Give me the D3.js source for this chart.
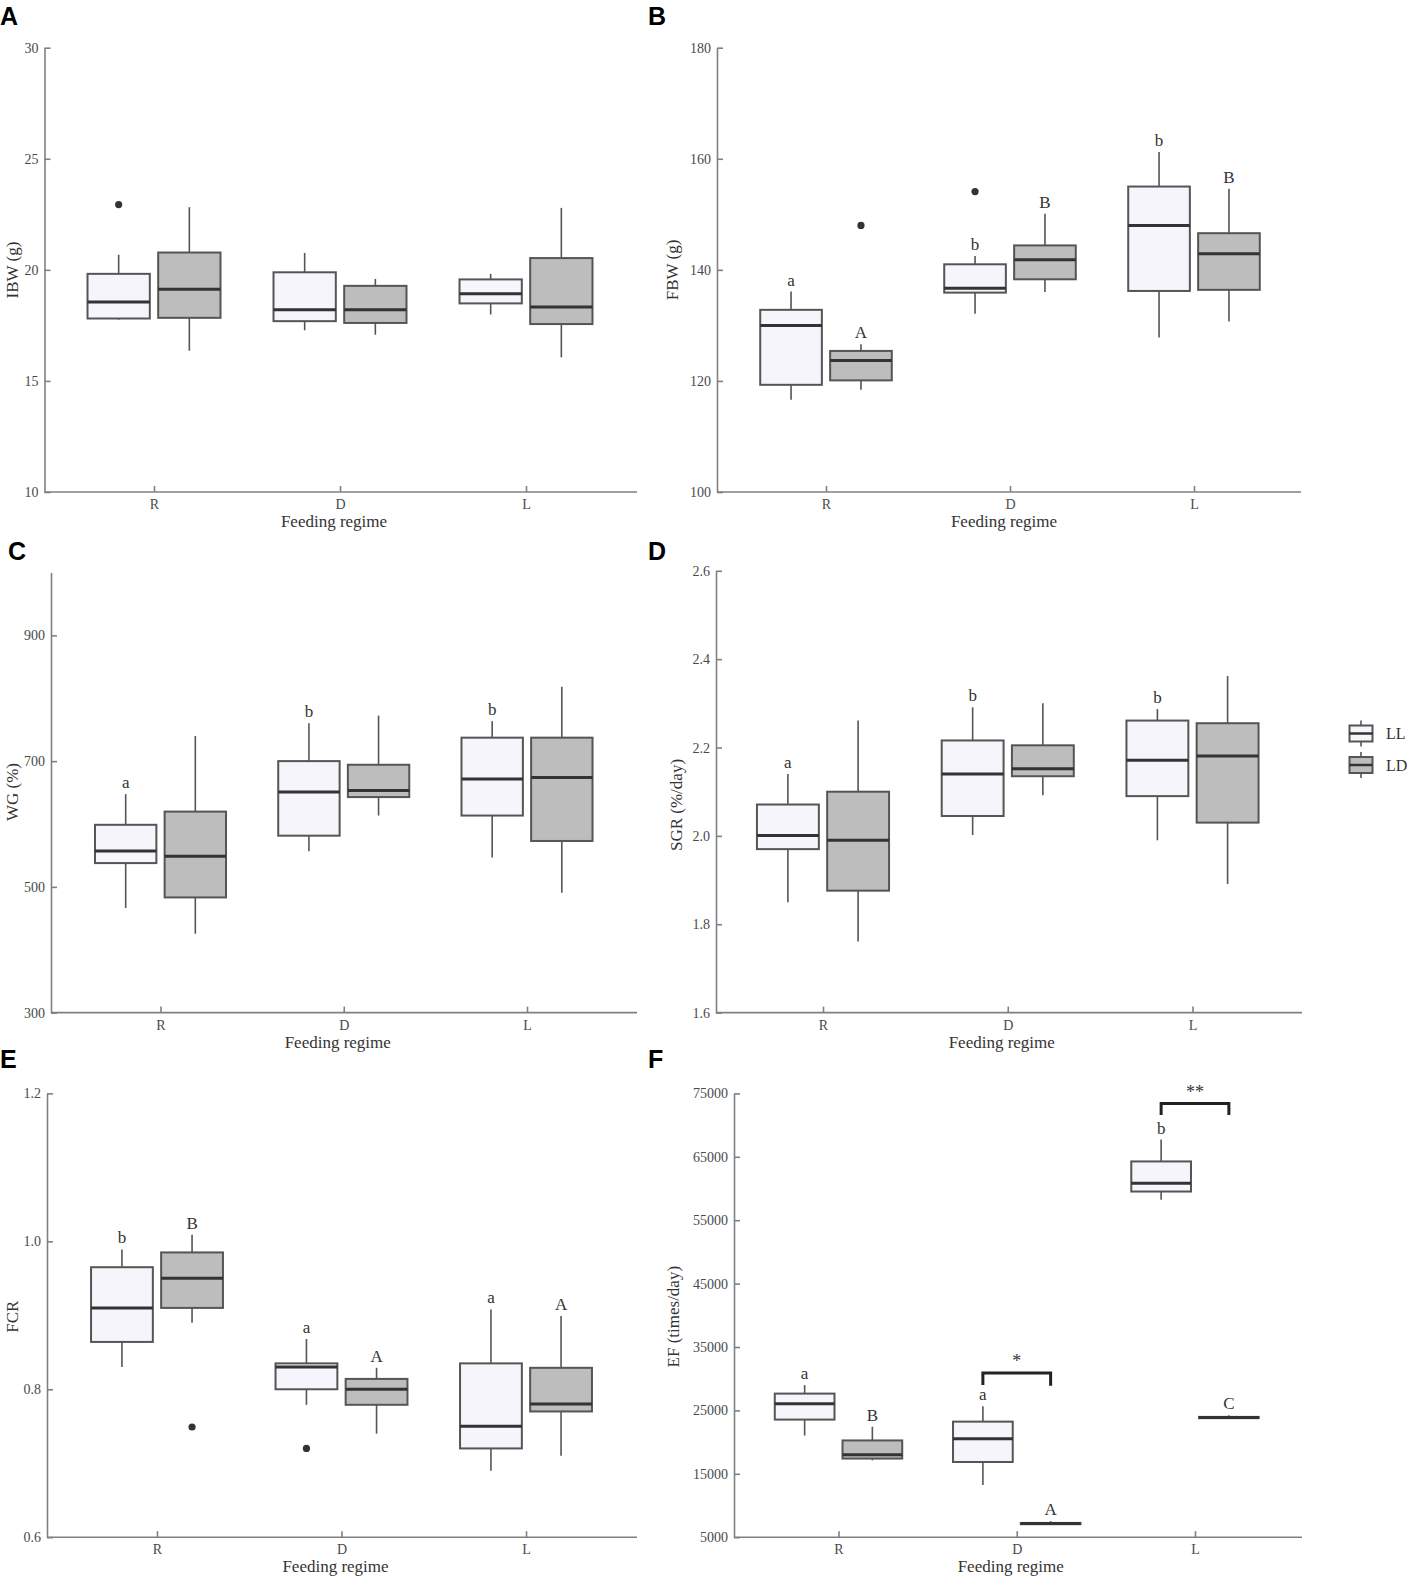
<!DOCTYPE html>
<html>
<head>
<meta charset="utf-8">
<script src="https://d3js.org/d3.v7.min.js"></script>
<style>
  body { margin: 0; background: #fff; }
  svg { display: block; }
</style>
</head>
<body>
<script>
// categories and series
var groups = ["R", "D", "L"];
var seriesNames = ["LL", "LD"];

// each row: [lower whisker, Q1, median, Q3, upper whisker] for R, D, L
// A - IBW (g)
var ibwLL = [[17.76, 17.81, 18.55, 19.82, 20.68], [17.28, 17.69, 18.20, 19.89, 20.76], [17.99, 18.49, 18.92, 19.57, 19.82]];
var ibwLD = [[16.36, 17.84, 19.13, 20.78, 22.82], [17.08, 17.61, 18.20, 19.28, 19.59], [16.06, 17.56, 18.33, 20.53, 22.79]];
var ibwOut = [["R", "LL", 22.94]];
var ibwTicks = [10, 15, 20, 25, 30];

// B - FBW (g)
var fbwLL = [[116.6, 119.3, 130.0, 132.8, 136.1], [132.1, 135.9, 136.7, 141.0, 142.5], [127.8, 136.2, 148.0, 155.0, 161.2]];
var fbwLD = [[118.4, 120.1, 123.7, 125.4, 126.6], [136.0, 138.3, 141.8, 144.4, 150.1], [130.7, 136.4, 142.9, 146.6, 154.6]];
var fbwOut = [["R", "LD", 148.0], ["D", "LL", 154.1]];
var fbwLetters = {LL: ["a", "b", "b"], LD: ["A", "B", "B"]};
var fbwTicks = [100, 120, 140, 160, 180];

// C - WG (%)
var wgLL = [[466.4, 537.8, 557.2, 598.7, 647.5], [556.7, 581.4, 650.7, 700.0, 760.4], [546.7, 613.4, 671.7, 737.3, 763.5]];
var wgLD = [[425.5, 483.2, 548.8, 619.7, 739.9], [613.4, 642.8, 653.3, 694.2, 772.4], [490.6, 573.0, 673.8, 737.3, 818.1]];
var wgLetters = {LL: ["a", "b", "b"], LD: ["", "", ""]};
var wgTicks = [300, 500, 700, 900];

// D - SGR (%/day)
var sgrLL = [[1.850, 1.970, 2.001, 2.071, 2.140], [2.002, 2.045, 2.140, 2.216, 2.291], [1.990, 2.090, 2.171, 2.261, 2.287]];
var sgrLD = [[1.761, 1.876, 1.990, 2.100, 2.261], [2.092, 2.135, 2.152, 2.205, 2.300], [1.891, 2.030, 2.181, 2.255, 2.362]];
var sgrLetters = {LL: ["a", "b", "b"], LD: ["", "", ""]};
var sgrTicks = [1.6, 1.8, 2.0, 2.2, 2.4, 2.6];

// E - FCR
var fcrLL = [[0.830, 0.864, 0.910, 0.965, 0.989], [0.779, 0.800, 0.830, 0.835, 0.868], [0.690, 0.720, 0.750, 0.835, 0.908]];
var fcrLD = [[0.890, 0.910, 0.950, 0.985, 1.009], [0.740, 0.779, 0.800, 0.814, 0.829], [0.710, 0.770, 0.780, 0.829, 0.899]];
var fcrOut = [["R", "LD", 0.749], ["D", "LL", 0.720]];
var fcrLetters = {LL: ["b", "a", "a"], LD: ["B", "A", "A"]};
var fcrTicks = [0.6, 0.8, 1.0, 1.2];

// F - EF (times/day)
var efLL = [[21017, 23551, 26032, 27650, 28998], [13251, 16864, 20531, 23228, 25655], [58228, 59522, 60816, 64268, 67719]];
var efLD = [[17134, 17404, 17997, 20262, 22419], [7050, 7050, 7150, 7250, 7530], [23775, 23775, 23875, 23975, 24250]];
var efLetters = {LL: ["a", "a", "b"], LD: ["B", "A", "C"]};
// significance brackets: group, top of bracket, left leg end, right leg end, label
var efBrackets = [["D", 30900, 29000, 28900, "*"], ["L", 73400, 71600, 71600, "**"]];
var efTicks = [5000, 15000, 25000, 35000, 45000, 55000, 65000, 75000];

var fillColor = {LL: "#f5f5fb", LD: "#bdbdbd"};
var serif = "'Liberation Serif', 'Times New Roman', serif";

// layout per panel: y-axis x, first/last category x, x-axis end, top/bottom of y range
var panels = [
  {key: "A", LL: ibwLL, LD: ibwLD, out: ibwOut, letters: null, domain: [10, 30], ticks: ibwTicks, fmt: d3.format("d"),
   title: "IBW (g)", axisX: 44.5, xR: 154, xL: 526, xEnd: 637, top: 47.7, bottom: 492, letterPos: [0, 25], titlePos: [12, 270]},
  {key: "B", LL: fbwLL, LD: fbwLD, out: fbwOut, letters: fbwLetters, domain: [100, 180], ticks: fbwTicks, fmt: d3.format("d"),
   title: "FBW (g)", axisX: 717, xR: 826, xL: 1194, xEnd: 1301, top: 47.7, bottom: 492, letterPos: [648, 25], titlePos: [672, 270]},
  {key: "C", LL: wgLL, LD: wgLD, out: [], letters: wgLetters, domain: [300, 1000], ticks: wgTicks, fmt: d3.format("d"),
   title: "WG (%)", axisX: 51, xR: 160.5, xL: 527, xEnd: 637, top: 572.5, bottom: 1012.6, letterPos: [8, 560], titlePos: [12, 792]},
  {key: "D", LL: sgrLL, LD: sgrLD, out: [], letters: sgrLetters, domain: [1.6, 2.6], ticks: sgrTicks, fmt: d3.format(".1f"),
   title: "SGR (%/day)", axisX: 716, xR: 823, xL: 1192.5, xEnd: 1302, top: 570.8, bottom: 1012.6, letterPos: [648, 560], titlePos: [676, 805]},
  {key: "E", LL: fcrLL, LD: fcrLD, out: fcrOut, letters: fcrLetters, domain: [0.6, 1.2], ticks: fcrTicks, fmt: d3.format(".1f"),
   title: "FCR", axisX: 47, xR: 157, xL: 526, xEnd: 637, top: 1093.4, bottom: 1537.2, letterPos: [0, 1068], titlePos: [12, 1316.7]},
  {key: "F", LL: efLL, LD: efLD, out: [], letters: efLetters, brackets: efBrackets, domain: [5000, 75000], ticks: efTicks, fmt: d3.format("d"),
   title: "EF (times/day)", axisX: 734, xR: 838.5, xL: 1195, xEnd: 1302, top: 1093.4, bottom: 1537.2, letterPos: [648, 1068], titlePos: [673, 1316.7]}
];

var svg = d3.select("body").append("svg")
  .attr("width", 1418)
  .attr("height", 1586);

function drawPanel(p) {
  var g = svg.append("g").attr("class", "panel-" + p.key);

  var x = d3.scalePoint().domain(groups).range([p.xR, p.xL]);
  var y = d3.scaleLinear().domain(p.domain).range([p.bottom, p.top]);
  var step = x.step();
  var bw = step * 0.335,
      off = {LL: -step * 0.19, LD: step * 0.19};

  // x axis: baseline runs from the y axis to the panel end
  g.append("line")
    .attr("x1", p.axisX).attr("x2", p.xEnd)
    .attr("y1", p.bottom).attr("y2", p.bottom)
    .attr("stroke", "#808080").attr("stroke-width", 1.6);
  var xAxis = g.append("g")
    .attr("transform", "translate(0," + p.bottom + ")")
    .call(d3.axisBottom(x).tickSizeInner(-6).tickSizeOuter(0).tickPadding(7));
  xAxis.select(".domain").remove();

  // y axis, ticks point inward
  var yAxis = g.append("g")
    .attr("transform", "translate(" + p.axisX + ",0)")
    .call(d3.axisLeft(y).tickValues(p.ticks).tickFormat(p.fmt).tickSizeInner(-6).tickSizeOuter(0).tickPadding(6));

  [xAxis, yAxis].forEach(function (a) {
    a.attr("font-family", serif).attr("font-size", 14);
    a.select(".domain").attr("stroke", "#808080").attr("stroke-width", 1.6);
    a.selectAll(".tick line").attr("stroke", "#808080").attr("stroke-width", 1.6);
    a.selectAll(".tick text").attr("fill", "#4a4a4a");
  });

  // boxes
  groups.forEach(function (grp, i) {
    seriesNames.forEach(function (s) {
      var st = p[s][i];
      var cx = x(grp) + off[s];
      var bg = g.append("g");
      bg.append("line")
        .attr("x1", cx).attr("x2", cx)
        .attr("y1", y(st[4])).attr("y2", y(st[3]))
        .attr("stroke", "#555").attr("stroke-width", 1.6);
      bg.append("line")
        .attr("x1", cx).attr("x2", cx)
        .attr("y1", y(st[1])).attr("y2", y(st[0]))
        .attr("stroke", "#555").attr("stroke-width", 1.6);
      bg.append("rect")
        .attr("x", cx - bw / 2).attr("width", bw)
        .attr("y", y(st[3])).attr("height", y(st[1]) - y(st[3]))
        .attr("fill", fillColor[s])
        .attr("stroke", "#555").attr("stroke-width", 2);
      bg.append("line")
        .attr("x1", cx - bw / 2).attr("x2", cx + bw / 2)
        .attr("y1", y(st[2])).attr("y2", y(st[2]))
        .attr("stroke", "#333").attr("stroke-width", 3);

      if (p.letters && p.letters[s][i]) {
        g.append("text")
          .attr("x", cx).attr("y", y(st[4]) - 6)
          .attr("text-anchor", "middle")
          .attr("font-family", serif).attr("font-size", 17)
          .attr("fill", "#333")
          .text(p.letters[s][i]);
      }
    });
  });

  // outliers
  g.selectAll("circle.out")
    .data(p.out)
    .enter().append("circle")
      .attr("class", "out")
      .attr("cx", function (d) { return x(d[0]) + off[d[1]]; })
      .attr("cy", function (d) { return y(d[2]); })
      .attr("r", 3.6)
      .attr("fill", "#333");

  // significance brackets
  (p.brackets || []).forEach(function (b) {
    var x1 = x(b[0]) + off.LL, x2 = x(b[0]) + off.LD;
    g.append("path")
      .attr("d", "M" + x1 + "," + y(b[2]) + "V" + y(b[1]) + "H" + x2 + "V" + y(b[3]))
      .attr("fill", "none")
      .attr("stroke", "#222").attr("stroke-width", 3);
    g.append("text")
      .attr("x", (x1 + x2) / 2).attr("y", y(b[1]) - 6)
      .attr("text-anchor", "middle")
      .attr("font-family", serif).attr("font-size", 18)
      .attr("fill", "#333")
      .text(b[4]);
  });

  // axis titles
  g.append("text")
    .attr("x", x("D") - 6).attr("y", p.bottom + 35)
    .attr("text-anchor", "middle")
    .attr("font-family", serif).attr("font-size", 17)
    .attr("fill", "#333")
    .text("Feeding regime");
  g.append("text")
    .attr("transform", "translate(" + p.titlePos[0] + "," + p.titlePos[1] + ") rotate(-90)")
    .attr("dy", "0.35em")
    .attr("text-anchor", "middle")
    .attr("font-family", serif).attr("font-size", 17)
    .attr("fill", "#333")
    .text(p.title);

  // panel letter
  g.append("text")
    .attr("x", p.letterPos[0]).attr("y", p.letterPos[1])
    .attr("font-family", "'Liberation Sans', Arial, sans-serif")
    .attr("font-weight", "bold").attr("font-size", 25)
    .attr("fill", "#000")
    .text(p.key);
}

panels.forEach(drawPanel);

// legend (beside panel D)
var legend = svg.append("g").attr("transform", "translate(1361,0)");
seriesNames.forEach(function (s, i) {
  var cy = 733.5 + i * 31.5;
  var lg = legend.append("g");
  lg.append("line")
    .attr("x1", 0).attr("x2", 0)
    .attr("y1", cy - 13).attr("y2", cy + 13)
    .attr("stroke", "#555").attr("stroke-width", 1.6);
  lg.append("rect")
    .attr("x", -11.5).attr("width", 23)
    .attr("y", cy - 8).attr("height", 16)
    .attr("fill", fillColor[s])
    .attr("stroke", "#555").attr("stroke-width", 2);
  lg.append("line")
    .attr("x1", -11.5).attr("x2", 11.5)
    .attr("y1", cy).attr("y2", cy)
    .attr("stroke", "#333").attr("stroke-width", 2.5);
  lg.append("text")
    .attr("x", 25).attr("y", cy)
    .attr("dy", "0.35em")
    .attr("font-family", serif).attr("font-size", 16)
    .attr("fill", "#333")
    .text(s);
});
</script>
</body>
</html>
